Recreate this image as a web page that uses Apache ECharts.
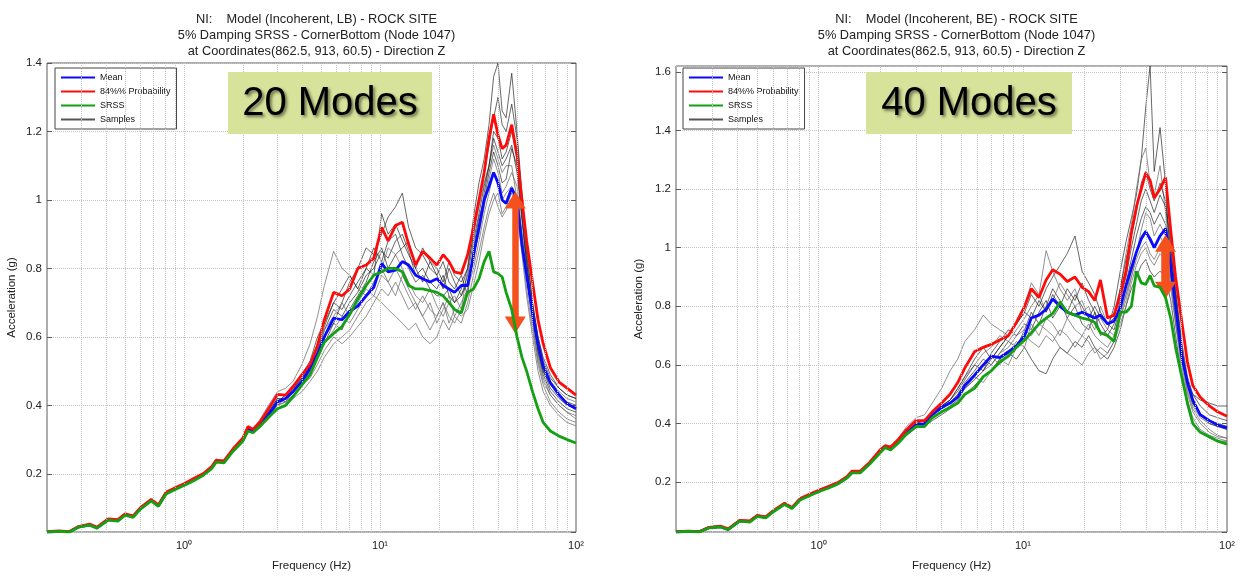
<!DOCTYPE html>
<html>
<head>
<meta charset="utf-8">
<script src="https://cdn.jsdelivr.net/npm/echarts@6/dist/echarts.min.js"></script>
<style>
  html, body { margin: 0; padding: 0; background: #fff; }
  #chart { width: 1248px; height: 577px; }
</style>
</head>
<body>
<div id="chart"></div>
<script>
// Frequency grid (Hz) shared by the statistic curves
const freqs = [0.2, 0.23, 0.26, 0.29, 0.33, 0.36, 0.41, 0.46, 0.5, 0.55, 0.6, 0.68, 0.74, 0.81, 0.93, 1.02, 1.12, 1.25, 1.38, 1.46, 1.6, 1.78,
  2.0, 2.12, 2.25, 2.45, 2.7, 3.0, 3.3, 3.6, 4.0, 4.4,
  4.8, 5.2, 5.8, 6.4, 7.0, 7.7, 8.5, 9.3, 10.2, 11.0,
  12.0, 13.0, 14.0, 15.2, 16.5, 18.0, 19.5, 21, 22.5, 24,
  26, 28, 30, 32, 34, 36, 38, 40, 42, 44,
  47, 50, 53, 56, 60, 64, 68, 74, 82, 90, 100];

// Individual sample curves diverge above ~2 Hz
const sampleFreqs = [2.0, 2.12, 2.25, 2.45, 2.7, 3.0, 3.3, 3.6, 4.0, 4.4,
  4.8, 5.2, 5.8, 6.4, 7.0, 7.7, 8.5, 9.3, 10.2, 11.0,
  12.0, 13.0, 14.0, 15.2, 16.5, 18.0, 19.5, 21, 22.5, 24,
  26, 28, 30, 32, 34, 36, 38, 40, 42, 44,
  47, 50, 53, 56, 60, 64, 68, 74, 82, 90, 100];

// Log-grid positions (Hz)
const gridFreqs = [0.3, 0.4, 0.5, 0.6, 0.7, 0.8, 0.9, 1, 2, 3, 4, 5, 6, 7, 8, 9, 10, 20, 30, 40, 50, 60, 70, 80, 90];

// ---- Incoherent, LB (20 modes) ----
const meanLB = [0.03,0.032,0.031,0.045,0.051,0.042,0.066,0.064,0.081,0.075,0.099,0.123,0.107,0.143,0.16,0.17,0.183,0.197,0.217,0.237,0.235,0.269,
  0.3,0.33,0.325,0.345,0.372,0.41,0.42,0.44,0.47,0.51,
  0.55,0.6,0.655,0.65,0.675,0.69,0.72,0.745,0.815,0.79,
  0.795,0.82,0.81,0.78,0.77,0.76,0.77,0.75,0.74,0.73,
  0.75,0.75,0.84,0.92,1.0,1.04,1.08,1.05,1.0,0.99,
  1.035,1.0,0.87,0.78,0.67,0.58,0.515,0.466,0.43,0.405,0.39];
const p84LB = [0.031,0.033,0.031,0.046,0.053,0.044,0.068,0.066,0.083,0.077,0.101,0.125,0.109,0.146,0.163,0.173,0.186,0.2,0.22,0.24,0.238,0.273,
  0.305,0.338,0.33,0.352,0.39,0.432,0.43,0.455,0.49,0.52,
  0.575,0.65,0.73,0.72,0.74,0.8,0.81,0.83,0.92,0.88,
  0.925,0.935,0.87,0.81,0.85,0.83,0.81,0.84,0.82,0.79,
  0.785,0.84,0.92,1.0,1.08,1.18,1.25,1.19,1.15,1.16,
  1.22,1.13,1.0,0.88,0.76,0.65,0.58,0.51,0.468,0.45,0.43];
const srssLB = [0.03,0.032,0.03,0.044,0.05,0.041,0.065,0.062,0.079,0.073,0.097,0.121,0.105,0.141,0.158,0.168,0.18,0.195,0.214,0.234,0.232,0.266,
  0.296,0.325,0.32,0.34,0.365,0.39,0.4,0.425,0.46,0.49,
  0.54,0.585,0.61,0.63,0.665,0.71,0.75,0.78,0.79,0.8,
  0.8,0.79,0.75,0.74,0.74,0.735,0.73,0.72,0.7,0.68,
  0.67,0.73,0.74,0.77,0.82,0.85,0.79,0.785,0.775,0.73,
  0.68,0.6,0.54,0.5,0.44,0.39,0.35,0.325,0.31,0.3,0.29];
const samplesLB = [
  [0.3,0.33,0.325,0.35,0.38,0.42,0.41,0.44,0.47,0.5, 0.56,0.62,0.68,0.66,0.7,0.73,0.78,0.8,0.85,0.83, 0.88,0.9,0.85,0.78,0.8,0.76,0.74,0.78,0.72,0.7, 0.74,0.8,0.95,1.05,1.12,1.22,1.36,1.4,1.26,1.24, 1.37,1.2,1.02,0.86,0.7,0.6,0.54,0.49,0.45,0.43,0.42],
  [0.3,0.335,0.33,0.36,0.4,0.44,0.45,0.47,0.52,0.58, 0.66,0.75,0.85,0.8,0.78,0.74,0.72,0.76,0.8,0.86, 0.84,0.8,0.76,0.72,0.7,0.74,0.69,0.66,0.7,0.72, 0.68,0.8,0.9,0.98,1.05,1.1,1.16,1.12,1.08,1.1, 1.1,1.0,0.88,0.78,0.66,0.58,0.52,0.47,0.44,0.42,0.41],
  [0.3,0.33,0.325,0.345,0.37,0.41,0.43,0.45,0.46,0.5, 0.54,0.58,0.64,0.7,0.76,0.8,0.86,0.84,0.9,0.95, 0.98,1.02,0.92,0.86,0.84,0.8,0.78,0.82,0.76,0.74, 0.78,0.72,0.86,0.95,1.0,1.08,1.14,1.1,1.05,1.06, 1.15,1.1,0.95,0.82,0.68,0.56,0.5,0.45,0.42,0.4,0.39],
  [0.295,0.325,0.32,0.335,0.36,0.39,0.4,0.42,0.44,0.47, 0.5,0.54,0.58,0.6,0.62,0.66,0.7,0.72,0.7,0.68, 0.66,0.64,0.62,0.64,0.6,0.58,0.6,0.65,0.62,0.66, 0.64,0.7,0.78,0.85,0.92,0.98,1.02,0.98,0.95,0.97, 1.0,0.96,0.84,0.72,0.6,0.5,0.44,0.4,0.37,0.35,0.34],
  [0.3,0.33,0.325,0.345,0.37,0.4,0.42,0.44,0.48,0.52, 0.58,0.6,0.64,0.62,0.68,0.72,0.76,0.82,0.86,0.8, 0.84,0.86,0.88,0.8,0.76,0.82,0.78,0.74,0.8,0.76, 0.72,0.76,0.82,0.92,1.02,1.1,1.2,1.18,1.12,1.14, 1.2,1.12,0.96,0.82,0.66,0.55,0.49,0.44,0.41,0.39,0.38],
  [0.3,0.33,0.325,0.345,0.375,0.41,0.42,0.44,0.47,0.5, 0.55,0.62,0.66,0.7,0.66,0.7,0.74,0.72,0.78,0.76, 0.72,0.78,0.74,0.7,0.66,0.7,0.64,0.68,0.72,0.66, 0.7,0.74,0.8,0.88,0.96,1.02,1.08,1.04,1.0,1.02, 1.04,1.0,0.9,0.78,0.64,0.53,0.47,0.43,0.4,0.38,0.37],
  [0.3,0.33,0.325,0.35,0.38,0.42,0.42,0.45,0.48,0.51, 0.57,0.63,0.7,0.68,0.72,0.76,0.8,0.78,0.96,0.9, 0.93,0.88,0.84,0.8,0.86,0.82,0.8,0.76,0.82,0.78, 0.76,0.8,0.9,1.0,1.08,1.16,1.24,1.3,1.22,1.2, 1.28,1.18,1.0,0.84,0.7,0.6,0.53,0.48,0.45,0.43,0.42],
  [0.295,0.325,0.32,0.34,0.365,0.4,0.41,0.43,0.46,0.48, 0.52,0.56,0.6,0.58,0.6,0.63,0.66,0.7,0.74,0.72, 0.76,0.72,0.68,0.7,0.66,0.62,0.66,0.7,0.64,0.68, 0.66,0.68,0.75,0.82,0.9,0.96,1.0,1.02,0.96,0.98, 1.02,0.98,0.86,0.74,0.62,0.52,0.46,0.41,0.38,0.36,0.35],
  [0.3,0.33,0.325,0.35,0.38,0.41,0.43,0.44,0.49,0.53, 0.6,0.64,0.7,0.74,0.78,0.74,0.8,0.86,0.82,0.88, 0.9,0.84,0.8,0.76,0.78,0.74,0.72,0.72,0.74,0.7, 0.72,0.78,0.88,0.96,1.04,1.1,1.18,1.14,1.1,1.12, 1.16,1.08,0.94,0.8,0.66,0.56,0.5,0.46,0.43,0.41,0.4],
  [0.3,0.33,0.325,0.345,0.37,0.4,0.41,0.43,0.46,0.5, 0.54,0.58,0.62,0.66,0.64,0.68,0.72,0.76,0.8,0.76, 0.8,0.76,0.72,0.68,0.72,0.68,0.66,0.7,0.66,0.64, 0.68,0.74,0.84,0.9,0.98,1.06,1.12,1.08,1.02,1.04, 1.08,1.04,0.9,0.78,0.64,0.54,0.48,0.43,0.4,0.38,0.36]
];
// double arrow: [frequency, upper value, lower value]
const arrowLB = [49, 1.0, 0.635];

// ---- Incoherent, BE (40 modes) ----
const meanBE = [0.03,0.032,0.031,0.045,0.048,0.039,0.068,0.066,0.085,0.08,0.101,0.126,0.112,0.141,0.16,0.172,0.183,0.197,0.217,0.235,0.235,0.265,
  0.305,0.32,0.315,0.338,0.37,0.395,0.4,0.43,0.455,0.47,
  0.49,0.53,0.565,0.6,0.63,0.625,0.645,0.665,0.7,0.76,
  0.77,0.79,0.825,0.8,0.78,0.77,0.78,0.77,0.76,0.77,
  0.74,0.75,0.795,0.87,0.93,0.985,1.03,1.055,1.03,1.0,
  1.04,1.065,0.94,0.8,0.63,0.54,0.48,0.43,0.41,0.395,0.385];
const p84BE = [0.031,0.033,0.031,0.046,0.05,0.041,0.07,0.068,0.087,0.082,0.103,0.128,0.114,0.144,0.163,0.175,0.186,0.2,0.22,0.238,0.238,0.268,
  0.31,0.325,0.32,0.345,0.38,0.41,0.41,0.44,0.47,0.5,
  0.54,0.59,0.645,0.66,0.67,0.685,0.7,0.745,0.8,0.86,
  0.83,0.89,0.925,0.91,0.885,0.9,0.865,0.85,0.82,0.89,
  0.76,0.77,0.84,0.92,1.05,1.14,1.2,1.255,1.23,1.17,
  1.2,1.24,1.06,0.9,0.75,0.61,0.53,0.49,0.46,0.44,0.425];
const srssBE = [0.03,0.032,0.03,0.044,0.047,0.038,0.067,0.064,0.083,0.078,0.099,0.124,0.11,0.139,0.158,0.17,0.18,0.195,0.215,0.232,0.232,0.262,
  0.3,0.318,0.31,0.333,0.365,0.39,0.39,0.42,0.44,0.455,
  0.47,0.5,0.52,0.56,0.58,0.61,0.63,0.66,0.685,0.71,
  0.74,0.76,0.775,0.815,0.78,0.77,0.76,0.755,0.745,0.71,
  0.7,0.68,0.78,0.78,0.8,0.92,0.88,0.875,0.905,0.87,
  0.865,0.83,0.76,0.66,0.56,0.47,0.4,0.37,0.355,0.34,0.33];
const samplesBE = [
  [0.305,0.32,0.315,0.34,0.37,0.4,0.4,0.43,0.45,0.47, 0.5,0.54,0.58,0.62,0.6,0.64,0.68,0.66,0.72,0.78, 0.74,0.8,0.86,0.82,0.76,0.8,0.74,0.72,0.78,0.7, 0.72,0.8,0.92,1.02,1.1,1.18,1.3,1.48,1.62,1.26, 1.41,1.22,0.9,0.74,0.62,0.54,0.5,0.48,0.47,0.46,0.46],
  [0.305,0.32,0.315,0.34,0.375,0.41,0.41,0.44,0.46,0.48, 0.52,0.56,0.6,0.64,0.66,0.7,0.68,0.72,0.76,0.8, 0.84,0.78,0.82,0.88,0.84,0.8,0.82,0.76,0.72,0.8, 0.74,0.78,0.86,0.98,1.08,1.2,1.3,1.34,1.22,1.18, 1.28,1.12,0.96,0.8,0.64,0.52,0.46,0.42,0.4,0.39,0.38],
  [0.305,0.32,0.315,0.34,0.37,0.4,0.4,0.43,0.45,0.47, 0.49,0.52,0.55,0.58,0.62,0.66,0.7,0.74,0.78,0.84, 0.8,0.86,0.9,0.94,0.98,1.04,0.92,0.88,0.84,0.78, 0.74,0.72,0.8,0.88,0.96,1.04,1.1,1.14,1.12,1.08, 1.12,1.08,0.98,0.84,0.66,0.54,0.47,0.43,0.41,0.4,0.39],
  [0.31,0.325,0.32,0.35,0.39,0.42,0.43,0.47,0.52,0.58, 0.62,0.68,0.72,0.77,0.74,0.72,0.7,0.74,0.8,0.88, 0.84,0.99,0.92,0.86,0.82,0.86,0.78,0.8,0.74,0.76, 0.72,0.7,0.78,0.84,0.9,0.98,1.06,1.12,1.1,1.04, 1.08,1.04,0.94,0.8,0.64,0.53,0.47,0.43,0.41,0.4,0.39],
  [0.3,0.315,0.31,0.33,0.36,0.385,0.39,0.41,0.43,0.45, 0.47,0.5,0.53,0.56,0.58,0.62,0.64,0.62,0.66,0.62, 0.58,0.57,0.62,0.66,0.64,0.68,0.66,0.7,0.66,0.64, 0.62,0.66,0.72,0.8,0.86,0.9,0.94,0.96,0.92,0.9, 0.92,0.9,0.82,0.7,0.56,0.46,0.4,0.37,0.35,0.34,0.34],
  [0.3,0.315,0.31,0.335,0.365,0.39,0.39,0.42,0.44,0.46, 0.48,0.52,0.55,0.58,0.6,0.64,0.66,0.7,0.72,0.7, 0.74,0.72,0.7,0.66,0.64,0.62,0.6,0.64,0.66,0.62, 0.64,0.68,0.76,0.82,0.9,0.96,1.0,1.02,0.98,0.96, 1.0,0.98,0.88,0.76,0.6,0.5,0.44,0.4,0.37,0.355,0.35],
  [0.305,0.32,0.315,0.34,0.37,0.4,0.41,0.43,0.46,0.48, 0.51,0.55,0.6,0.58,0.64,0.68,0.72,0.7,0.74,0.72, 0.78,0.82,0.76,0.8,0.86,0.82,0.88,0.82,0.78,0.74, 0.7,0.74,0.82,0.9,1.0,1.08,1.16,1.2,1.16,1.12, 1.18,1.14,1.0,0.84,0.66,0.54,0.47,0.43,0.4,0.39,0.38],
  [0.305,0.32,0.315,0.34,0.37,0.4,0.4,0.43,0.45,0.47, 0.5,0.53,0.56,0.6,0.63,0.6,0.64,0.68,0.66,0.74, 0.7,0.76,0.74,0.7,0.76,0.72,0.7,0.74,0.7,0.68, 0.66,0.7,0.76,0.84,0.92,0.98,1.04,1.06,1.02,1.0, 1.04,1.0,0.9,0.78,0.62,0.51,0.45,0.41,0.38,0.36,0.35],
  [0.305,0.32,0.315,0.34,0.37,0.4,0.41,0.44,0.46,0.48, 0.52,0.56,0.62,0.66,0.62,0.66,0.7,0.74,0.78,0.76, 0.82,0.78,0.84,0.8,0.78,0.84,0.8,0.76,0.8,0.76, 0.74,0.76,0.86,0.96,1.04,1.12,1.22,1.26,1.2,1.16, 1.22,1.16,1.02,0.86,0.68,0.56,0.5,0.46,0.43,0.42,0.41],
  [0.3,0.315,0.31,0.335,0.36,0.39,0.395,0.42,0.44,0.46, 0.48,0.52,0.56,0.54,0.58,0.62,0.6,0.66,0.7,0.68, 0.66,0.7,0.68,0.72,0.7,0.66,0.7,0.68,0.64,0.66, 0.64,0.68,0.74,0.8,0.88,0.94,0.98,1.0,0.96,0.94, 0.98,0.96,0.86,0.74,0.58,0.48,0.42,0.38,0.36,0.35,0.34]
];
const arrowBE = [50, 1.015, 0.855];

const titleLines = ['5% Damping SRSS - CornerBottom (Node 1047)', 'at Coordinates(862.5, 913, 60.5) - Direction Z'];
const legendNames = ['Mean', '84%% Probability', 'SRSS', 'Samples'];

const FONT = '"Liberation Sans", Arial, Helvetica, sans-serif';
const COLORS = { mean: '#0a0aff', p84: '#ff0a0a', srss: '#13a013', arrow: '#f4511e', grid: '#c4c4c4', frame: '#5a5a5a' };
const SUP = { '0': '\u2070', '1': '\u00b9', '2': '\u00b2' };

const panels = [
  { head: 'NI:    Model (Incoherent, LB) - ROCK SITE', mean: meanLB, p84: p84LB, srss: srssLB, samples: samplesLB,
    arrow: arrowLB, yMax: 1.4, split: 7, box: { left: 47, top: 63, width: 529, height: 472 },
    tag: '20 Modes', tagBox: [228, 72, 204, 62], legendAt: [55, 68], yNameGap: 29 },
  { head: 'NI:    Model (Incoherent, BE) - ROCK SITE', mean: meanBE, p84: p84BE, srss: srssBE, samples: samplesBE,
    arrow: arrowBE, yMax: 1.62, split: 8, box: { left: 676, top: 66, width: 551, height: 468 },
    tag: '40 Modes', tagBox: [866, 72, 206, 62], legendAt: [683, 68], yNameGap: 31 }
];

const pairs = (xs, ys) => ys.map((y, i) => [xs[i], y]);

const option = {
  animation: false,
  backgroundColor: '#fff',
  textStyle: { fontFamily: FONT },
  title: [], grid: [], xAxis: [], yAxis: [], legend: [], series: [], graphic: []
};

panels.forEach((p, k) => {
  const cx = p.box.left + p.box.width / 2;
  option.title.push({
    text: [p.head].concat(titleLines).join('\n'),
    left: cx, top: 6, textAlign: 'center',
    textStyle: { fontFamily: FONT, fontSize: 12.8, fontWeight: 'normal', color: '#222', lineHeight: 16 }
  });
  option.grid.push(Object.assign({ show: true, borderColor: COLORS.frame, borderWidth: 1, backgroundColor: '#fff' }, p.box));

  option.xAxis.push({
    type: 'log', logBase: 10, gridIndex: k, min: 0.2, max: 100, splitNumber: 3,
    name: 'Frequency (Hz)', nameLocation: 'middle', nameGap: 28,
    nameTextStyle: { fontFamily: FONT, fontSize: 11.5, color: '#222' },
    axisLine: { show: false }, axisTick: { show: false }, splitLine: { show: false },
    axisLabel: {
      fontFamily: FONT, fontSize: 11, color: '#222', margin: 8, showMinLabel: false,
      formatter: v => {
        const e = Math.log10(v), r = Math.round(e);
        return Math.abs(e - r) < 1e-6 ? '10' + (SUP[String(r)] || r) : '';
      }
    }
  });

  const yCommon = { type: 'value', gridIndex: k, min: 0.03, max: p.yMax, splitNumber: p.split };
  option.yAxis.push(Object.assign({}, yCommon, {
    position: 'left',
    name: 'Acceleration (g)', nameLocation: 'middle', nameGap: p.yNameGap,
    nameTextStyle: { fontFamily: FONT, fontSize: 11.5, color: '#222' },
    axisLine: { show: false },
    axisTick: { show: true, inside: true, length: 5, lineStyle: { color: COLORS.frame } },
    splitLine: { show: true, lineStyle: { color: COLORS.grid, type: 'dotted', width: 1 } },
    axisLabel: { fontFamily: FONT, fontSize: 11.5, color: '#222', margin: 5, showMinLabel: false, showMaxLabel: k === 0 }
  }));
  option.yAxis.push(Object.assign({}, yCommon, {
    position: 'right',
    axisLine: { show: false },
    axisTick: { show: true, inside: true, length: 5, lineStyle: { color: COLORS.frame } },
    splitLine: { show: false }, axisLabel: { show: false }
  }));
  const yi = k * 2;

  option.legend.push({
    left: p.legendAt[0], top: p.legendAt[1], orient: 'vertical',
    data: legendNames, itemWidth: 34, itemHeight: 8, itemGap: 5,
    padding: [5, 6, 5, 5], backgroundColor: '#fff', borderColor: '#444', borderWidth: 1,
    itemStyle: { opacity: 0 },
    textStyle: { fontFamily: FONT, fontSize: 9, color: '#111' }, selectedMode: false
  });

  // dotted log grid
  option.series.push({
    type: 'line', xAxisIndex: k, yAxisIndex: yi, data: [], z: 1, silent: true,
    markLine: {
      silent: true, symbol: ['none', 'none'], label: { show: false },
      lineStyle: { color: COLORS.grid, type: 'dotted', width: 1 },
      data: gridFreqs.map(f => ({ xAxis: f }))
    }
  });

  p.samples.forEach((s, j) => {
    option.series.push({
      name: 'Samples', type: 'line', xAxisIndex: k, yAxisIndex: yi, z: 2, silent: true,
      showSymbol: false, symbol: 'none', data: pairs(sampleFreqs, s),
      color: j % 2 ? '#777777' : '#222222',
      itemStyle: { opacity: 0 },
      lineStyle: { width: 0.9, color: j % 2 ? 'rgba(110,110,110,0.85)' : 'rgba(30,30,30,0.75)' }
    });
  });

  [['Mean', p.mean, COLORS.mean, 3], ['84%% Probability', p.p84, COLORS.p84, 4], ['SRSS', p.srss, COLORS.srss, 5]]
    .forEach(([name, vals, col, z]) => {
      option.series.push({
        name, type: 'line', xAxisIndex: k, yAxisIndex: yi, z, silent: true,
        showSymbol: false, symbol: 'none', data: pairs(freqs, vals), color: col,
        itemStyle: { opacity: 0 },
        lineStyle: { width: 2.8, color: col }
      });
    });

  // double-headed arrow between the mean and SRSS levels
  option.series.push({
    type: 'line', xAxisIndex: k, yAxisIndex: yi, data: [], z: 20, silent: true,
    markLine: {
      silent: true, symbol: ['triangle', 'triangle'], symbolSize: [21, 17], label: { show: false },
      lineStyle: { color: COLORS.arrow, type: 'solid', width: k === 0 ? 6.5 : 8.5, opacity: 1 },
      data: [[{ coord: [p.arrow[0], p.arrow[1]] }, { coord: [p.arrow[0], p.arrow[2]] }]]
    }
  });

  const [bx, by, bw, bh] = p.tagBox;
  option.graphic.push({ type: 'rect', z: 50, shape: { x: bx, y: by, width: bw, height: bh }, style: { fill: '#d7e39a' } });
  option.graphic.push({
    type: 'text', z: 51, x: bx + bw / 2, y: by + bh / 2 + 1,
    style: {
      text: p.tag, fontFamily: FONT, fontSize: 40, fill: '#000', align: 'center', verticalAlign: 'middle',
      textShadowColor: 'rgba(0,0,0,0.5)', textShadowBlur: 3, textShadowOffsetX: 2, textShadowOffsetY: 2,
      shadowColor: 'rgba(0,0,0,0.5)', shadowBlur: 3, shadowOffsetX: 2, shadowOffsetY: 2
    }
  });
});

const chart = echarts.init(document.getElementById('chart'), null, { renderer: 'canvas' });
chart.setOption(option);
</script>
</body>
</html>
